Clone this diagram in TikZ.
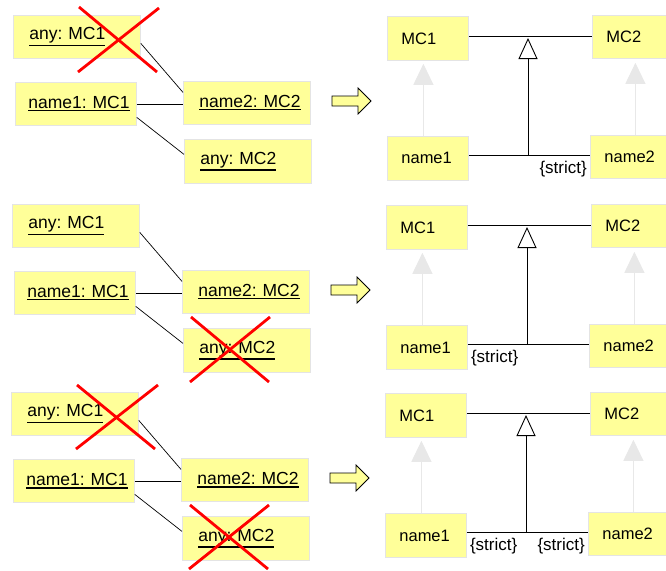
\documentclass[tikz,border=0pt]{standalone}
\usepackage{fontspec}
\setmainfont{Liberation Sans}
\usetikzlibrary{arrows.meta,calc}

\definecolor{boxfill}{HTML}{FFFF99}
\definecolor{boxedge}{HTML}{E4E4E4}
\definecolor{realizeline}{HTML}{E8E8E8}
\definecolor{hintfill}{HTML}{FFFF99}

% underlined instance name
\newcommand\objname[1]{\vtop{\hbox{#1}\kern1.2pt\hrule height 1.6pt}}

% one row: object diagram on the left, class view on the right
\newcommand\figrow[1]{%
  % object diagram
  \node[objbox] (#1anyA) at (13,15) {\objname{any: MC1}};
  \node[objbox, inner xsep=13pt] (#1nameA) at (15,82) {\objname{name1: MC1}};
  \node[objbox] (#1nameB) at (183,81) {\objname{name2: MC2}};
  \node[objbox, minimum height=44pt] (#1anyB) at (184,139) {\objname{any: MC2}};
  \draw[link] ([yshift=-6.5pt]#1anyA.east) -- ([yshift=10.5pt]#1nameB.west);
  \draw[link] (#1nameA.east) -- (#1nameA.east -| #1nameB.west);
  \draw[link] ([yshift=-13.5pt]#1nameA.east) -- ([yshift=7pt]#1anyB.west);
  % transition arrow
  \draw[hint] (332,96) -- (358,96) -- (358,88) -- (371,101) -- (358,114)
    -- (358,106) -- (332,106) -- cycle;
  % class view
  \node[clsbox] (#1mcA) at (387,16) {MC1};
  \node[clsbox, minimum height=43pt] (#1mcB) at (592,15) {MC2};
  \node[clsbox] (#1insA) at (387,136) {name1};
  \node[clsbox, minimum height=43pt] (#1insB) at (590,135) {name2};
  \coordinate (#1top) at (528,36);
  \coordinate (#1bot) at (528,155);
  \coordinate (#1bL) at (#1insA.east |- #1bot);
  \coordinate (#1bR) at (#1insB.west |- #1bot);
  \coordinate (#1upA) at (#1insA.north |- #1mcA.south);
  \coordinate (#1upB) at (#1insB.north |- #1mcB.south);
  \draw[link] (#1mcA.east |- #1top) -- (#1mcB.west |- #1top);
  \draw[link] (#1bL) -- (#1bR);
  \draw[inherit] (#1bot) -- ([yshift=-2pt]#1top);
  \draw[realize] ([xshift=-4.5pt]#1insA.north) -- ([xshift=-4.5pt,yshift=-3pt]#1upA);
  \draw[realize] ([xshift=4.5pt]#1insB.north) -- ([xshift=4.5pt,yshift=-4pt]#1upB);
}

\begin{document}
\frenchspacing
\begin{tikzpicture}[x=1pt,y=-1pt,
  objbox/.style={draw=boxedge, line width=0.8pt, fill=boxfill, anchor=north west,
    inner xsep=16pt, inner ysep=0pt, text width=95pt, minimum height=43pt,
    align=left, font=\fontsize{17.5}{20}\selectfont},
  clsbox/.style={draw=boxedge, line width=0.8pt, fill=boxfill, anchor=north west,
    inner xsep=14pt, inner ysep=0pt, text width=53pt, minimum height=44pt,
    align=left, font=\fontsize{16.5}{20}\selectfont},
  link/.style={draw=black, line width=0.7pt},
  cross/.style={draw=red, line width=2.8pt},
  hint/.style={draw=black, line width=0.8pt, fill=hintfill, line join=miter},
  inherit/.style={draw=black, line width=0.9pt,
    -{Triangle[open, width=19pt, length=21pt, line width=0.9pt]}},
  realize/.style={draw=realizeline, line width=1pt,
    -{Triangle[width=20pt, length=21pt]}},
  strictlbl/.style={inner sep=0pt, font=\fontsize{17}{20}\selectfont}]

\useasboundingbox (0,0) rectangle (666,570);

% row 1: any: MC1 is excluded
\begin{scope}
  \figrow{ra}
  \draw[cross] (79,7) -- (157,72);
  \draw[cross] (159,8) -- (78,72);
  \node[strictlbl, anchor=north east] (rastrictB) at ([xshift=-3pt,yshift=-6pt]rabR) {\{strict\}};
\end{scope}

% row 2: any: MC2 is excluded
\begin{scope}[shift={(-1,189)}]
  \figrow{rb}
  \draw[cross] (192,128) -- (270,193);
  \draw[cross] (271,128) -- (191,193);
  \node[strictlbl, anchor=north west] (rbstrictA) at ([xshift=3pt,yshift=-6pt]rbbL) {\{strict\}};
\end{scope}

% row 3: both anonymous objects are excluded
\begin{scope}[shift={(-2,377)}]
  \figrow{rc}
  \draw[cross] (79,8) -- (157,72);
  \draw[cross] (160,8) -- (78,72);
  \draw[cross] (192,128) -- (270,192);
  \draw[cross] (271,128) -- (191,192);
  \node[strictlbl, anchor=north west] (rcstrictA) at ([xshift=3pt,yshift=-6pt]rcbL) {\{strict\}};
  \node[strictlbl, anchor=north east] (rcstrictB) at ([xshift=-3pt,yshift=-6pt]rcbR) {\{strict\}};
\end{scope}
\end{tikzpicture}
\end{document}
